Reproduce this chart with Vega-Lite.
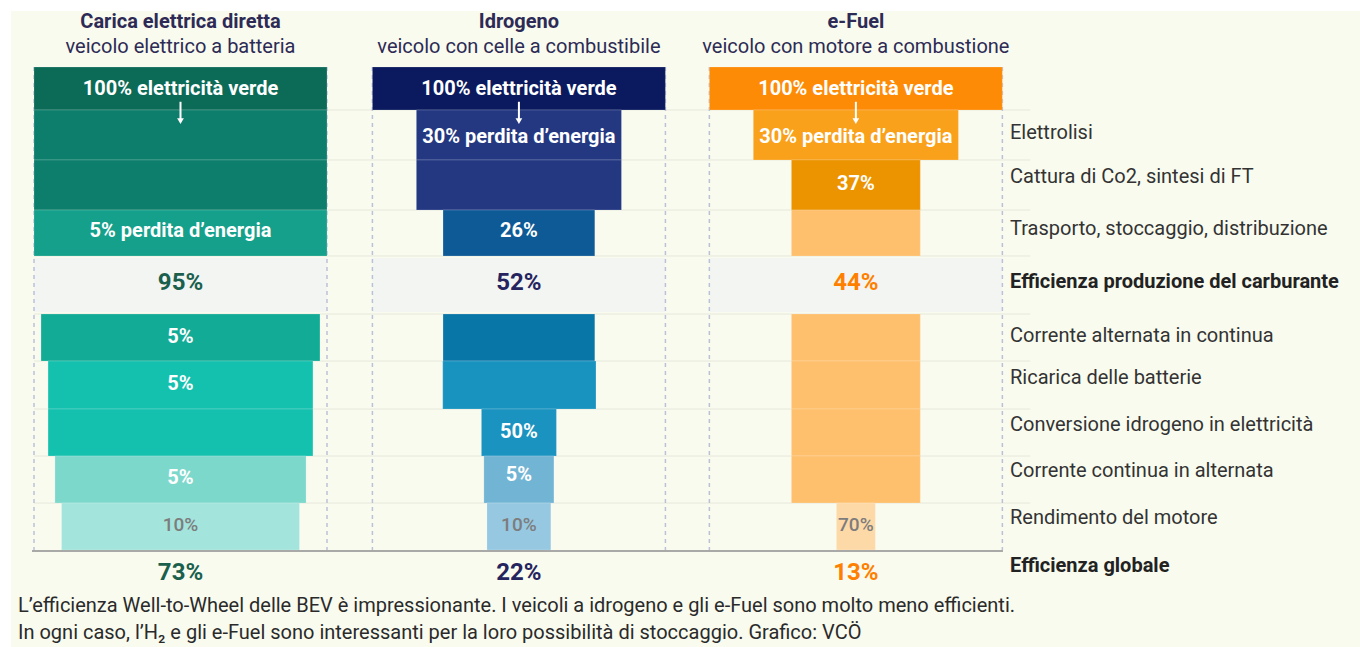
{
  "$schema": "https://vega.github.io/schema/vega-lite/v6.json",
  "width": 1360,
  "height": 647,
  "autosize": {"type": "fit", "contains": "padding"},
  "padding": 0,
  "background": "#ffffff",
  "config": {"view": {"stroke": null}, "font": "Roboto"},
  "resolve": {"scale": {"color": "independent"}},
  "datasets": {
    "sfondo": [{"x": -7.85, "x2": 452.56, "y": -1.159, "y2": 12.008}],
    "bande": [
      {"veicolo": "BEV", "lo": 0, "hi": 100, "top": 3.954, "bot": 5.072},
      {"veicolo": "FCEV", "lo": 115.5, "hi": 215.5, "top": 3.954, "bot": 5.072},
      {"veicolo": "EFUEL", "lo": 230.5, "hi": 330.5, "top": 3.954, "bot": 5.072}
    ],
    "righe": [
      {"y": 0.89}, {"y": 1.925}, {"y": 2.961}, {"y": 3.913}, {"y": 5.114},
      {"y": 6.087}, {"y": 7.081}, {"y": 8.054}, {"y": 9.027}
    ],
    "colonne": [
      {"x": 0}, {"x": 100}, {"x": 115.5}, {"x": 215.5}, {"x": 230.5}, {"x": 330.5}
    ],
    "barre": [
      {"fase": "bev0", "lo": 0, "hi": 100, "top": 0, "bot": 0.89},
      {"fase": "bev1", "lo": 0, "hi": 100, "top": 0.89, "bot": 1.925},
      {"fase": "bev1", "lo": 0, "hi": 100, "top": 1.925, "bot": 2.961},
      {"fase": "bev3", "lo": 0, "hi": 100, "top": 2.961, "bot": 3.913},
      {"fase": "bev5", "lo": 2.4, "hi": 97.6, "top": 5.114, "bot": 6.087},
      {"fase": "bev6", "lo": 4.8, "hi": 95.2, "top": 6.087, "bot": 7.081},
      {"fase": "bev6", "lo": 4.8, "hi": 95.2, "top": 7.081, "bot": 8.054},
      {"fase": "bev8", "lo": 7.15, "hi": 92.85, "top": 8.054, "bot": 9.027},
      {"fase": "bev9", "lo": 9.4, "hi": 90.6, "top": 9.027, "bot": 10.0},
      {"fase": "h0", "lo": 115.5, "hi": 215.5, "top": 0, "bot": 0.89},
      {"fase": "h1", "lo": 130.5, "hi": 200.5, "top": 0.89, "bot": 1.925},
      {"fase": "h1", "lo": 130.5, "hi": 200.5, "top": 1.925, "bot": 2.961},
      {"fase": "h3", "lo": 139.6, "hi": 191.4, "top": 2.961, "bot": 3.913},
      {"fase": "h5", "lo": 139.6, "hi": 191.4, "top": 5.114, "bot": 6.087},
      {"fase": "h6", "lo": 139.5, "hi": 191.8, "top": 6.087, "bot": 7.081},
      {"fase": "h7", "lo": 152.7, "hi": 178.3, "top": 7.081, "bot": 8.054},
      {"fase": "h8", "lo": 153.55, "hi": 177.45, "top": 8.054, "bot": 9.027},
      {"fase": "h9", "lo": 154.6, "hi": 176.4, "top": 9.027, "bot": 10.0},
      {"fase": "f0", "lo": 230.5, "hi": 330.5, "top": 0, "bot": 0.89},
      {"fase": "f1", "lo": 245.5, "hi": 315.5, "top": 0.89, "bot": 1.925},
      {"fase": "f2", "lo": 258.5, "hi": 302.5, "top": 1.925, "bot": 2.961},
      {"fase": "f3", "lo": 258.5, "hi": 302.5, "top": 2.961, "bot": 3.913},
      {"fase": "f3", "lo": 258.5, "hi": 302.5, "top": 5.114, "bot": 6.087},
      {"fase": "f3", "lo": 258.5, "hi": 302.5, "top": 6.087, "bot": 7.081},
      {"fase": "f3", "lo": 258.5, "hi": 302.5, "top": 7.081, "bot": 8.054},
      {"fase": "f3", "lo": 258.5, "hi": 302.5, "top": 8.054, "bot": 9.027},
      {"fase": "f9", "lo": 273.85, "hi": 287.15, "top": 9.027, "bot": 10.0}
    ],
    "frecce": [{"x": 50}, {"x": 165.5}, {"x": 280.5}],
    "titoli": [
      {"x": 50, "y": -0.932, "testo": "Carica elettrica diretta", "peso": "b"},
      {"x": 50, "y": -0.414, "testo": "veicolo elettrico a batteria", "peso": "n"},
      {"x": 165.5, "y": -0.932, "testo": "Idrogeno", "peso": "b"},
      {"x": 165.5, "y": -0.414, "testo": "veicolo con celle a combustibile", "peso": "n"},
      {"x": 280.5, "y": -0.932, "testo": "e-Fuel", "peso": "b"},
      {"x": 280.5, "y": -0.414, "testo": "veicolo con motore a combustione", "peso": "n"}
    ],
    "etichette": [
      {"x": 50, "y": 0.45, "testo": "100% elettricità verde", "tono": "w"},
      {"x": 165.5, "y": 0.45, "testo": "100% elettricità verde", "tono": "w"},
      {"x": 280.5, "y": 0.45, "testo": "100% elettricità verde", "tono": "w"},
      {"x": 165.5, "y": 1.449, "testo": "30% perdita d’energia", "tono": "w"},
      {"x": 280.5, "y": 1.449, "testo": "30% perdita d’energia", "tono": "w"},
      {"x": 280.5, "y": 2.422, "testo": "37%", "tono": "w"},
      {"x": 165.5, "y": 3.395, "testo": "26%", "tono": "w"},
      {"x": 50, "y": 3.395, "testo": "5% perdita d’energia", "tono": "w"},
      {"x": 50, "y": 5.59, "testo": "5%", "tono": "w"},
      {"x": 50, "y": 6.563, "testo": "5%", "tono": "w"},
      {"x": 165.5, "y": 7.557, "testo": "50%", "tono": "w"},
      {"x": 50, "y": 8.509, "testo": "5%", "tono": "w"},
      {"x": 165.5, "y": 8.447, "testo": "5%", "tono": "w"},
      {"x": 50, "y": 9.482, "testo": "10%", "tono": "g"},
      {"x": 165.5, "y": 9.482, "testo": "10%", "tono": "g"},
      {"x": 280.5, "y": 9.482, "testo": "70%", "tono": "g"}
    ],
    "efficienze": [
      {"veicolo": "BEV", "x": 50, "y": 4.472, "testo": "95%"},
      {"veicolo": "FCEV", "x": 165.5, "y": 4.472, "testo": "52%"},
      {"veicolo": "EFUEL", "x": 280.5, "y": 4.472, "testo": "44%"},
      {"veicolo": "BEV", "x": 50, "y": 10.476, "testo": "73%"},
      {"veicolo": "FCEV", "x": 165.5, "y": 10.476, "testo": "22%"},
      {"veicolo": "EFUEL", "x": 280.5, "y": 10.476, "testo": "13%"}
    ],
    "passi": [
      {"x": 333.1, "y": 1.366, "testo": "Elettrolisi", "peso": "n"},
      {"x": 333.1, "y": 2.277, "testo": "Cattura di Co2, sintesi di FT", "peso": "n"},
      {"x": 333.1, "y": 3.354, "testo": "Trasporto, stoccaggio, distribuzione", "peso": "n"},
      {"x": 333.1, "y": 4.451, "testo": "Efficienza produzione del carburante", "peso": "b"},
      {"x": 333.1, "y": 5.569, "testo": "Corrente alternata in continua", "peso": "n"},
      {"x": 333.1, "y": 6.439, "testo": "Ricarica delle batterie", "peso": "n"},
      {"x": 333.1, "y": 7.412, "testo": "Conversione idrogeno in elettricità", "peso": "n"},
      {"x": 333.1, "y": 8.364, "testo": "Corrente continua in alternata", "peso": "n"},
      {"x": 333.1, "y": 9.337, "testo": "Rendimento del motore", "peso": "n"},
      {"x": 333.1, "y": 10.331, "testo": "Efficienza globale", "peso": "b"}
    ],
    "note": [
      {"x": -5.46, "y": 11.159, "testo": "L’efficienza Well-to-Wheel delle BEV è impressionante. I veicoli a idrogeno e gli e-Fuel sono molto meno efficienti."},
      {"x": -5.46, "y": 11.718, "testo": "In ogni caso, l’H₂ e gli e-Fuel sono interessanti per la loro possibilità di stoccaggio. Grafico: VCÖ"}
    ]
  },
  "layer": [
    {
      "data": {"name": "sfondo"},
      "mark": {"type": "rect", "color": "#f9fbef"},
      "encoding": {
        "x": {"field": "x", "type": "quantitative", "scale": {"domain": [-11.604, 452.56], "nice": false, "zero": false}, "axis": null},
        "x2": {"field": "x2"},
        "y": {"field": "y", "type": "quantitative", "scale": {"domain": [-1.387, 12.008], "nice": false, "zero": false, "reverse": true}, "axis": null},
        "y2": {"field": "y2"}
      }
    },
    {
      "data": {"name": "bande"},
      "mark": {"type": "rect", "color": "#f3f5f3"},
      "encoding": {
        "x": {"field": "lo", "type": "quantitative", "scale": {"domain": [-11.604, 452.56], "nice": false, "zero": false}, "axis": null},
        "x2": {"field": "hi"},
        "y": {"field": "top", "type": "quantitative", "scale": {"domain": [-1.387, 12.008], "nice": false, "zero": false, "reverse": true}, "axis": null},
        "y2": {"field": "bot"}
      }
    },
    {
      "data": {"name": "righe"},
      "mark": {"type": "rule", "color": "#e6e8dc", "strokeWidth": 1},
      "encoding": {
        "x": {"datum": 0, "type": "quantitative", "scale": {"domain": [-11.604, 452.56], "nice": false, "zero": false}, "axis": null},
        "x2": {"datum": 340},
        "y": {"field": "y", "type": "quantitative", "scale": {"domain": [-1.387, 12.008], "nice": false, "zero": false, "reverse": true}, "axis": null}
      }
    },
    {
      "data": {"name": "colonne"},
      "mark": {"type": "rule", "color": "#bcc1d8", "strokeWidth": 1.5, "strokeDash": [4, 4]},
      "encoding": {
        "x": {"field": "x", "type": "quantitative", "scale": {"domain": [-11.604, 452.56], "nice": false, "zero": false}, "axis": null},
        "y": {"datum": 0, "type": "quantitative", "scale": {"domain": [-1.387, 12.008], "nice": false, "zero": false, "reverse": true}, "axis": null},
        "y2": {"datum": 10}
      }
    },
    {
      "data": {"name": "barre"},
      "mark": {"type": "rect", "stroke": "#ffffff", "strokeOpacity": 0.18, "strokeWidth": 1},
      "encoding": {
        "x": {"field": "lo", "type": "quantitative", "scale": {"domain": [-11.604, 452.56], "nice": false, "zero": false}, "axis": null},
        "x2": {"field": "hi"},
        "y": {"field": "top", "type": "quantitative", "scale": {"domain": [-1.387, 12.008], "nice": false, "zero": false, "reverse": true}, "axis": null},
        "y2": {"field": "bot"},
        "color": {
          "field": "fase", "type": "nominal", "legend": null,
          "scale": {
            "domain": ["bev0", "bev1", "bev3", "bev5", "bev6", "bev8", "bev9", "h0", "h1", "h3", "h5", "h6", "h7", "h8", "h9", "f0", "f1", "f2", "f3", "f9"],
            "range": ["#0b6b57", "#0c7e6b", "#14a08a", "#12ab96", "#14c1ae", "#7dd8cc", "#a3e4dc", "#0b1a5e", "#243882", "#0e5a96", "#0976a8", "#1893bf", "#1a93c0", "#72b4d4", "#96c8e2", "#fd8b06", "#f9a11b", "#ec9300", "#fec06c", "#fdd9a8"]
          }
        }
      }
    },
    {
      "data": {"name": "frecce"},
      "mark": {"type": "rule", "color": "#ffffff", "strokeWidth": 2},
      "encoding": {
        "x": {"field": "x", "type": "quantitative", "scale": {"domain": [-11.604, 452.56], "nice": false, "zero": false}, "axis": null},
        "y": {"datum": 0.72, "type": "quantitative", "scale": {"domain": [-1.387, 12.008], "nice": false, "zero": false, "reverse": true}, "axis": null},
        "y2": {"datum": 1.08}
      }
    },
    {
      "data": {"name": "frecce"},
      "mark": {"type": "point", "shape": "triangle-down", "filled": true, "color": "#ffffff", "opacity": 1, "size": 45},
      "encoding": {
        "x": {"field": "x", "type": "quantitative", "scale": {"domain": [-11.604, 452.56], "nice": false, "zero": false}, "axis": null},
        "y": {"datum": 1.12, "type": "quantitative", "scale": {"domain": [-1.387, 12.008], "nice": false, "zero": false, "reverse": true}, "axis": null}
      }
    },
    {
      "data": {"values": [{}]},
      "mark": {"type": "rule", "color": "#a9aaa8", "strokeWidth": 2},
      "encoding": {
        "x": {"datum": -0.68, "type": "quantitative", "scale": {"domain": [-11.604, 452.56], "nice": false, "zero": false}, "axis": null},
        "x2": {"datum": 330.7},
        "y": {"datum": 10.02, "type": "quantitative", "scale": {"domain": [-1.387, 12.008], "nice": false, "zero": false, "reverse": true}, "axis": null}
      }
    },
    {
      "data": {"name": "titoli"},
      "transform": [{"filter": "datum.peso == 'b'"}],
      "mark": {"type": "text", "font": "Roboto", "fontSize": 20, "fontWeight": "bold", "color": "#2d2b55", "align": "center", "baseline": "middle"},
      "encoding": {
        "x": {"field": "x", "type": "quantitative", "scale": {"domain": [-11.604, 452.56], "nice": false, "zero": false}, "axis": null},
        "y": {"field": "y", "type": "quantitative", "scale": {"domain": [-1.387, 12.008], "nice": false, "zero": false, "reverse": true}, "axis": null},
        "text": {"field": "testo"}
      }
    },
    {
      "data": {"name": "titoli"},
      "transform": [{"filter": "datum.peso == 'n'"}],
      "mark": {"type": "text", "font": "Roboto", "fontSize": 20, "color": "#2d2b55", "align": "center", "baseline": "middle"},
      "encoding": {
        "x": {"field": "x", "type": "quantitative", "scale": {"domain": [-11.604, 452.56], "nice": false, "zero": false}, "axis": null},
        "y": {"field": "y", "type": "quantitative", "scale": {"domain": [-1.387, 12.008], "nice": false, "zero": false, "reverse": true}, "axis": null},
        "text": {"field": "testo"}
      }
    },
    {
      "data": {"name": "etichette"},
      "transform": [{"filter": "datum.tono == 'w'"}],
      "mark": {"type": "text", "font": "Roboto", "fontSize": 20, "fontWeight": "bold", "color": "#ffffff", "align": "center", "baseline": "middle"},
      "encoding": {
        "x": {"field": "x", "type": "quantitative", "scale": {"domain": [-11.604, 452.56], "nice": false, "zero": false}, "axis": null},
        "y": {"field": "y", "type": "quantitative", "scale": {"domain": [-1.387, 12.008], "nice": false, "zero": false, "reverse": true}, "axis": null},
        "text": {"field": "testo"}
      }
    },
    {
      "data": {"name": "etichette"},
      "transform": [{"filter": "datum.tono == 'g'"}],
      "mark": {"type": "text", "font": "Roboto", "fontSize": 19, "fontWeight": 500, "color": "#7d7d7d", "align": "center", "baseline": "middle"},
      "encoding": {
        "x": {"field": "x", "type": "quantitative", "scale": {"domain": [-11.604, 452.56], "nice": false, "zero": false}, "axis": null},
        "y": {"field": "y", "type": "quantitative", "scale": {"domain": [-1.387, 12.008], "nice": false, "zero": false, "reverse": true}, "axis": null},
        "text": {"field": "testo"}
      }
    },
    {
      "data": {"name": "efficienze"},
      "mark": {"type": "text", "font": "Roboto", "fontSize": 24, "fontWeight": "bold", "align": "center", "baseline": "middle"},
      "encoding": {
        "x": {"field": "x", "type": "quantitative", "scale": {"domain": [-11.604, 452.56], "nice": false, "zero": false}, "axis": null},
        "y": {"field": "y", "type": "quantitative", "scale": {"domain": [-1.387, 12.008], "nice": false, "zero": false, "reverse": true}, "axis": null},
        "text": {"field": "testo"},
        "color": {"field": "veicolo", "type": "nominal", "legend": null, "scale": {"domain": ["BEV", "FCEV", "EFUEL"], "range": ["#1a604d", "#25245e", "#ff7f00"]}}
      }
    },
    {
      "data": {"name": "passi"},
      "transform": [{"filter": "datum.peso == 'n'"}],
      "mark": {"type": "text", "font": "Roboto", "fontSize": 20, "color": "#333333", "align": "left", "baseline": "middle"},
      "encoding": {
        "x": {"field": "x", "type": "quantitative", "scale": {"domain": [-11.604, 452.56], "nice": false, "zero": false}, "axis": null},
        "y": {"field": "y", "type": "quantitative", "scale": {"domain": [-1.387, 12.008], "nice": false, "zero": false, "reverse": true}, "axis": null},
        "text": {"field": "testo"}
      }
    },
    {
      "data": {"name": "passi"},
      "transform": [{"filter": "datum.peso == 'b'"}],
      "mark": {"type": "text", "font": "Roboto", "fontSize": 20, "fontWeight": "bold", "color": "#222222", "align": "left", "baseline": "middle"},
      "encoding": {
        "x": {"field": "x", "type": "quantitative", "scale": {"domain": [-11.604, 452.56], "nice": false, "zero": false}, "axis": null},
        "y": {"field": "y", "type": "quantitative", "scale": {"domain": [-1.387, 12.008], "nice": false, "zero": false, "reverse": true}, "axis": null},
        "text": {"field": "testo"}
      }
    },
    {
      "data": {"name": "note"},
      "mark": {"type": "text", "font": "Roboto", "fontSize": 20, "color": "#2a2a2a", "align": "left", "baseline": "middle"},
      "encoding": {
        "x": {"field": "x", "type": "quantitative", "scale": {"domain": [-11.604, 452.56], "nice": false, "zero": false}, "axis": null},
        "y": {"field": "y", "type": "quantitative", "scale": {"domain": [-1.387, 12.008], "nice": false, "zero": false, "reverse": true}, "axis": null},
        "text": {"field": "testo"}
      }
    }
  ]
}
